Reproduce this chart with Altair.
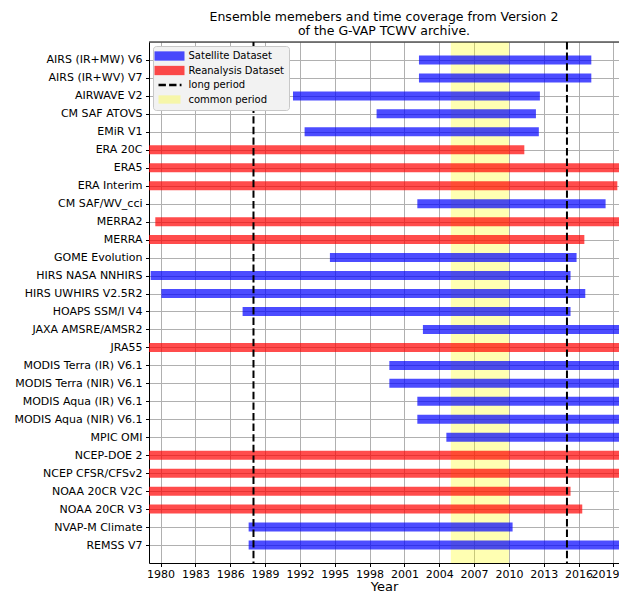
import altair as alt
import pandas as pd

names = [
    "AIRS (IR+MW) V6", "AIRS (IR+WV) V7", "AIRWAVE V2", "CM SAF ATOVS", "EMiR V1",
    "ERA 20C", "ERA5", "ERA Interim", "CM SAF/WV_cci", "MERRA2", "MERRA",
    "GOME Evolution", "HIRS NASA NNHIRS", "HIRS UWHIRS V2.5R2", "HOAPS SSM/I V4",
    "JAXA AMSRE/AMSR2", "JRA55", "MODIS Terra (IR) V6.1", "MODIS Terra (NIR) V6.1",
    "MODIS Aqua (IR) V6.1", "MODIS Aqua (NIR) V6.1", "MPIC OMI", "NCEP-DOE 2",
    "NCEP CFSR/CFSv2", "NOAA 20CR V2C", "NOAA 20CR V3", "NVAP-M Climate", "REMSS V7",
]
S, R = "Satellite Dataset", "Reanalysis Dataset"
kinds = [S, S, S, S, S, R, R, R, S, R, R, S, S, S, S, S, R, S, S, S, S, S, R, R, R, R, S, S]
start_year = [2002.64, 2002.64, 1991.79, 1998.99, 1992.79, 1900.0, 1979.0, 1979.0, 2002.5,
              1979.93, 1979.0, 1994.97, 1979.53, 1980.45, 1987.45, 2002.98, 1958.0,
              2000.09, 2000.09, 2002.5, 2002.5, 2005.0, 1979.0, 1979.0, 1851.0, 1836.0,
              1987.97, 1987.97]
end_year = [2016.71, 2016.71, 2012.28, 2011.94, 2012.19, 2010.94, 2021.0, 2018.95, 2017.94,
            2021.0, 2016.11, 2015.44, 2014.92, 2016.19, 2014.92, 2021.0, 2021.0,
            2021.0, 2021.0, 2021.0, 2021.0, 2021.0, 2021.0, 2021.0, 2014.92, 2015.93,
            2009.93, 2021.0]
long_period = [1988, 2015]
common_start = [2005]
common_end = [2010]
x_ticks = list(range(1980, 2020, 3))
legend_labels = ["Satellite Dataset", "Reanalysis Dataset", "long period", "common period"]
legend_colors = ["#0000ff", "#ff0000", "#000000", "#ffff00"]

W, H = 470, 521
FONT = "DejaVu Sans"

df = pd.DataFrame({"name": names, "kind": kinds, "start": start_year, "end": end_year})
df_rules = pd.DataFrame({"year": long_period})
df_common = pd.DataFrame({"start": common_start, "end": common_end})

# 11.61 px per year, as in the reference; the right-most slice of the frame
# falls outside the page window.
x_scale = alt.Scale(domain=[1979, 1979 + W / 11.61], nice=False, zero=False)

shape_expr = (
    "datum.value == 'long period' ? "
    "'M-2.2,-0.24H-0.72V0.24H-2.2Z M-0.08,-0.24H1.4V0.24H-0.08Z M2.04,-0.24H2.4V0.24H2.04Z' : "
    "(datum.value == 'common period' ? 'M-2.2,-0.83H2.2V0.83H-2.2Z' : 'M-3,-0.93H3V0.93H-3Z')"
)
opacity_expr = "datum.value == 'long period' ? 1 : (datum.value == 'common period' ? 0.3 : 0.7)"

x_axis = alt.Axis(
    values=x_ticks, format="d", title="Year", titleFontSize=13, titleFontWeight="normal",
    titleColor="black", titlePadding=1, labelFontSize=11, labelColor="black",
    labelPadding=1.5, tickSize=3.5, tickColor="black", domainColor="black",
    gridColor="#b0b0b0", gridWidth=1, labelOverlap=False,
    labelFlush=6, labelFlushOffset=5.5,
)

yellow = alt.Chart(df_common).mark_rect(color="#ffff00", opacity=0.3).encode(
    x=alt.X("start:Q", scale=x_scale, axis=x_axis),
    x2="end:Q",
)

bars = alt.Chart(df).mark_bar(
    height=9, xOffset=-4.5, x2Offset=4.5, fillOpacity=0.7, clip=True
).encode(
    x=alt.X("start:Q", scale=x_scale, axis=x_axis),
    x2="end:Q",
    y=alt.Y(
        "name:N", sort=names, scale=alt.Scale(type="point", padding=1),
        axis=alt.Axis(
            title=None, labelFontSize=11, labelColor="black", labelPadding=3.5,
            tickSize=3.5, tickColor="black", domainColor="black", grid=True,
            gridColor="#b0b0b0", gridWidth=1, labelOverlap=False,
        ),
    ),
    color=alt.Color(
        "kind:N",
        scale=alt.Scale(domain=legend_labels, range=legend_colors),
        legend=alt.Legend(
            title=None, orient="top-left", offset=4, padding=5,
            symbolType={"expr": shape_expr}, symbolSize=100,
            symbolOpacity={"expr": opacity_expr}, symbolStrokeWidth=0,
            symbolOffset=6.5, labelOffset=14, rowPadding=4.5,
            labelFontSize=10, labelFont=FONT, labelColor="black",
            fillColor="#f2f2f2", strokeColor="#c8c8c8", cornerRadius=3,
        ),
    ),
)

rules = alt.Chart(df_rules).mark_rule(
    color="black", strokeDash=[7.4, 3.2], strokeWidth=2
).encode(x=alt.X("year:Q", scale=x_scale, axis=x_axis))

top_spine = alt.Chart(pd.DataFrame({"a": [0]})).mark_rule(
    color="black", strokeWidth=1
).encode(x=alt.value(0), x2=alt.value(W), y=alt.value(0))

chart = alt.layer(yellow, bars, rules, top_spine).properties(
    width=W, height=H,
    title=alt.TitleParams(
        text=["Ensemble memebers and time coverage from Version 2", "of the G-VAP TCWV archive."],
        fontSize=12.5, fontWeight="normal", font=FONT, color="black",
        anchor="middle", offset=4, lineHeight=14,
    ),
    padding={"left": 141, "top": 34, "right": 0, "bottom": 29},
    autosize=alt.AutoSizeParams(type="none"),
).configure_view(stroke=None).configure(font=FONT)

chart.save("out.html", embed_options={"renderer": "svg", "actions": False})
